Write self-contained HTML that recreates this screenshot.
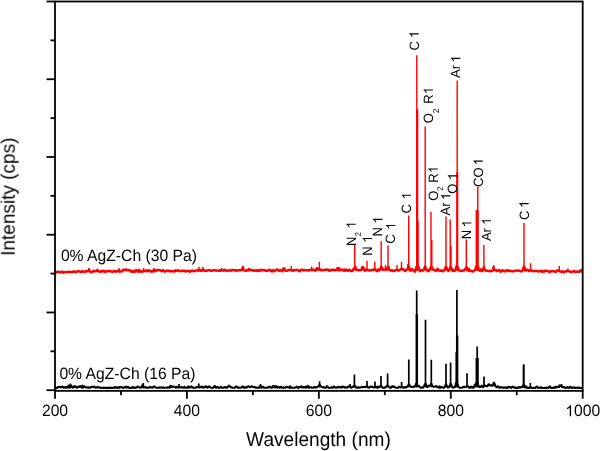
<!DOCTYPE html>
<html><head><meta charset="utf-8"><style>html,body{margin:0;padding:0;background:#fff;overflow:hidden}svg{display:block}text{text-rendering:geometricPrecision}</style></head>
<body><svg width="600" height="451" viewBox="0 0 600 451"><defs><path id="one" d="M763,0 L583,0 L583,1147 Q518,1085 465,1054 Q412,1023 359,992 Q306,961 223,930 L223,1104 Q374,1175 430.5,1225.5 Q487,1276 543.5,1326.5 Q600,1377 647,1472 L763,1472 Z"/></defs><rect width="600" height="451" fill="#fff"/><path d="M55.00,388.4 L55.50,388.3 L56.00,387.9 L56.50,388.3 L57.00,387.8 L57.50,387.5 L58.00,387.0 L58.50,387.1 L59.00,386.9 L59.50,387.0 L60.00,387.2 L60.50,387.1 L61.00,387.4 L61.50,387.3 L62.00,386.5 L62.50,386.8 L63.00,386.8 L63.50,387.6 L64.00,387.3 L64.50,387.5 L65.00,387.7 L65.50,387.4 L66.00,387.3 L66.50,386.8 L67.00,387.6 L67.50,387.1 L68.00,387.5 L68.50,385.6 L69.00,387.5 L69.50,387.5 L70.00,387.6 L70.50,384.5 L71.00,386.4 L71.50,386.1 L72.00,387.1 L72.50,387.6 L73.00,387.3 L73.50,387.4 L74.00,386.3 L74.50,386.7 L75.00,386.2 L75.50,386.4 L76.00,387.0 L76.50,387.8 L77.00,387.8 L77.50,387.6 L78.00,386.9 L78.50,386.6 L79.00,386.6 L79.50,386.4 L80.00,386.9 L80.50,386.2 L81.00,386.9 L81.50,386.4 L82.00,387.6 L82.50,385.8 L83.00,387.8 L83.50,386.9 L84.00,386.3 L84.50,386.5 L85.00,386.8 L85.50,387.1 L86.00,387.4 L86.50,387.7 L87.00,387.5 L87.50,387.5 L88.00,387.4 L88.50,387.8 L89.00,387.4 L89.50,387.8 L90.00,387.7 L90.50,387.5 L91.00,387.0 L91.50,386.9 L92.00,386.9 L92.50,386.8 L93.00,387.3 L93.50,386.9 L94.00,386.9 L94.50,386.6 L95.00,387.3 L95.50,387.6 L96.00,387.2 L96.50,387.5 L97.00,387.1 L97.50,387.6 L98.00,387.3 L98.50,387.3 L99.00,387.1 L99.50,387.3 L100.00,387.9 L100.50,387.9 L101.00,387.9 L101.50,387.9 L102.00,387.8 L102.50,387.7 L103.00,387.9 L103.50,387.9 L104.00,387.9 L104.50,387.7 L105.00,387.9 L105.50,387.9 L106.00,387.9 L106.50,387.9 L107.00,387.9 L107.50,387.9 L108.00,387.9 L108.50,387.9 L109.00,387.9 L109.50,387.9 L110.00,387.5 L110.50,387.7 L111.00,387.9 L111.50,387.9 L112.00,387.9 L112.50,387.8 L113.00,387.8 L113.50,387.9 L114.00,387.9 L114.50,387.5 L115.00,386.9 L115.50,387.1 L116.00,387.6 L116.50,387.9 L117.00,387.9 L117.50,387.9 L118.00,387.2 L118.50,387.5 L119.00,387.2 L119.50,387.9 L120.00,387.2 L120.50,387.3 L121.00,387.0 L121.50,387.2 L122.00,387.2 L122.50,387.4 L123.00,387.8 L123.50,387.9 L124.00,387.8 L124.50,387.3 L125.00,387.0 L125.50,386.9 L126.00,387.2 L126.50,387.6 L127.00,386.6 L127.50,387.4 L128.00,387.0 L128.50,387.5 L129.00,387.8 L129.50,387.9 L130.00,387.7 L130.50,387.9 L131.00,387.8 L131.50,387.9 L132.00,387.9 L132.50,387.2 L133.00,386.8 L133.50,387.5 L134.00,387.9 L134.50,387.9 L135.00,387.5 L135.50,387.8 L136.00,387.8 L136.50,387.5 L137.00,387.1 L137.50,386.6 L138.00,386.8 L138.50,386.9 L139.00,387.1 L139.50,387.4 L140.00,387.8 L140.50,387.5 L141.00,387.4 L141.50,387.4 L142.00,387.2 L142.50,385.0 L143.00,387.0 L143.30,387.2 L143.50,387.3 L144.00,387.5 L144.50,387.3 L145.00,387.3 L145.50,386.9 L146.00,387.7 L146.50,387.8 L147.00,387.8 L147.50,387.8 L148.00,387.8 L148.50,387.5 L149.00,387.2 L149.50,387.2 L150.00,387.5 L150.50,387.0 L151.00,387.3 L151.50,387.4 L152.00,387.8 L152.50,387.8 L153.00,387.4 L153.50,386.6 L154.00,386.4 L154.50,386.5 L155.00,387.0 L155.50,387.4 L156.00,387.6 L156.50,387.8 L157.00,387.8 L157.50,387.8 L158.00,387.8 L158.50,387.8 L159.00,387.5 L159.50,387.7 L160.00,387.5 L160.50,387.5 L161.00,387.4 L161.50,387.5 L162.00,387.8 L162.50,387.8 L163.00,387.8 L163.50,387.3 L164.00,387.6 L164.50,387.8 L165.00,387.8 L165.50,387.8 L166.00,387.8 L166.50,387.7 L167.00,387.8 L167.50,387.4 L168.00,387.4 L168.50,387.3 L169.00,387.4 L169.50,387.8 L170.00,387.8 L170.50,385.7 L171.00,386.6 L171.50,386.3 L172.00,386.7 L172.50,387.1 L173.00,386.6 L173.50,386.6 L174.00,386.6 L174.50,386.8 L175.00,387.1 L175.50,387.6 L176.00,387.6 L176.50,386.9 L177.00,386.8 L177.50,387.5 L178.00,387.6 L178.50,387.5 L179.00,387.2 L179.50,387.4 L180.00,387.2 L180.50,387.3 L181.00,387.4 L181.50,386.8 L182.00,387.2 L182.50,387.6 L183.00,387.8 L183.50,387.7 L184.00,387.2 L184.50,386.7 L185.00,387.5 L185.50,387.8 L186.00,387.8 L186.50,387.8 L187.00,387.8 L187.50,387.8 L188.00,386.7 L188.50,387.5 L189.00,386.6 L189.50,387.1 L190.00,387.5 L190.50,387.4 L191.00,387.0 L191.50,386.4 L192.00,386.8 L192.50,387.5 L193.00,387.8 L193.50,387.8 L194.00,387.8 L194.50,387.8 L195.00,387.8 L195.50,387.8 L196.00,387.4 L196.50,387.4 L197.00,387.2 L197.50,387.3 L198.00,386.6 L198.50,387.2 L198.80,387.2 L199.00,387.2 L199.50,387.5 L200.00,387.1 L200.50,387.1 L201.00,387.3 L201.50,386.8 L202.00,386.5 L202.50,386.7 L203.00,387.6 L203.50,387.6 L204.00,387.5 L204.50,387.0 L205.00,386.6 L205.50,386.4 L206.00,386.3 L206.50,387.3 L207.00,387.3 L207.50,387.6 L208.00,386.9 L208.50,387.0 L209.00,386.4 L209.50,386.9 L210.00,387.3 L210.50,387.5 L211.00,387.7 L211.50,387.7 L212.00,387.8 L212.50,387.8 L213.00,387.7 L213.50,387.6 L214.00,386.6 L214.50,386.3 L215.00,386.0 L215.50,387.4 L216.00,387.8 L216.50,387.8 L217.00,387.0 L217.50,387.5 L218.00,387.2 L218.50,387.8 L219.00,387.8 L219.50,387.8 L220.00,387.6 L220.50,387.2 L221.00,386.8 L221.50,387.2 L222.00,387.7 L222.50,387.8 L223.00,387.8 L223.50,387.8 L224.00,387.6 L224.50,387.0 L225.00,387.0 L225.50,387.2 L226.00,387.8 L226.50,387.8 L227.00,387.8 L227.50,386.8 L228.00,386.9 L228.50,386.6 L229.00,385.6 L229.50,386.2 L230.00,386.5 L230.50,386.8 L231.00,387.5 L231.50,387.4 L232.00,387.5 L232.50,387.8 L233.00,387.8 L233.50,387.8 L234.00,387.8 L234.50,387.8 L235.00,387.6 L235.50,386.9 L236.00,386.3 L236.50,386.8 L237.00,386.9 L237.50,387.5 L238.00,387.7 L238.50,387.6 L239.00,387.5 L239.50,387.6 L240.00,387.8 L240.50,387.8 L241.00,387.7 L241.50,387.3 L242.00,387.0 L242.50,386.4 L243.00,387.0 L243.50,386.9 L244.00,387.8 L244.50,387.3 L245.00,387.5 L245.50,387.2 L246.00,387.5 L246.50,387.6 L247.00,387.2 L247.50,386.9 L248.00,386.4 L248.50,386.4 L249.00,386.5 L249.50,387.0 L250.00,387.1 L250.50,387.1 L251.00,386.8 L251.50,386.3 L252.00,386.4 L252.50,386.8 L253.00,387.0 L253.50,387.0 L254.00,387.1 L254.50,387.3 L255.00,387.5 L255.50,387.1 L256.00,387.8 L256.50,387.8 L257.00,387.8 L257.50,387.8 L258.00,387.8 L258.50,387.3 L259.00,387.7 L259.50,387.3 L260.00,387.4 L260.50,385.0 L261.00,387.3 L261.50,387.8 L262.00,387.6 L262.50,387.1 L263.00,386.7 L263.50,387.4 L264.00,387.7 L264.50,387.7 L265.00,387.6 L265.50,387.8 L266.00,387.8 L266.50,387.8 L267.00,387.8 L267.50,387.5 L268.00,387.5 L268.50,387.4 L269.00,386.9 L269.50,386.7 L270.00,386.8 L270.50,386.9 L271.00,387.8 L271.50,387.8 L272.00,387.8 L272.50,387.3 L273.00,386.2 L273.50,386.4 L274.00,386.1 L274.50,387.4 L275.00,386.8 L275.50,387.4 L276.00,386.0 L276.50,386.4 L277.00,386.8 L277.50,387.6 L278.00,387.4 L278.50,386.8 L279.00,387.1 L279.50,387.7 L280.00,387.7 L280.50,386.9 L281.00,386.8 L281.50,387.1 L282.00,387.8 L282.50,387.8 L283.00,387.8 L283.50,387.3 L284.00,387.5 L284.50,387.8 L285.00,387.8 L285.50,387.7 L286.00,386.8 L286.50,386.9 L287.00,386.8 L287.50,387.3 L288.00,387.2 L288.50,387.2 L289.00,387.5 L289.50,387.8 L290.00,386.3 L290.50,387.8 L291.00,387.7 L291.50,387.6 L292.00,387.6 L292.50,387.7 L293.00,387.8 L293.50,387.7 L294.00,387.8 L294.50,387.7 L295.00,387.8 L295.50,387.4 L296.00,387.2 L296.50,386.6 L297.00,387.2 L297.50,387.6 L298.00,387.2 L298.50,387.8 L299.00,387.4 L299.50,387.4 L300.00,387.0 L300.50,386.7 L301.00,386.5 L301.50,386.4 L302.00,387.5 L302.50,387.3 L303.00,387.4 L303.50,387.3 L304.00,387.5 L304.50,387.3 L305.00,387.0 L305.50,386.8 L306.00,387.7 L306.50,387.4 L307.00,387.4 L307.50,385.9 L308.00,386.0 L308.50,386.9 L309.00,387.7 L309.50,387.6 L310.00,387.1 L310.50,387.1 L311.00,387.4 L311.50,387.7 L312.00,387.7 L312.50,387.7 L313.00,387.7 L313.50,387.7 L314.00,387.0 L314.50,386.7 L315.00,387.1 L315.50,387.7 L316.00,387.4 L316.50,387.4 L317.00,387.3 L317.50,386.9 L318.00,386.5 L318.50,385.8 L319.00,385.2 L319.50,385.3 L319.60,385.3 L320.00,385.3 L320.50,385.8 L321.00,386.3 L321.50,386.8 L322.00,387.2 L322.50,387.3 L323.00,387.4 L323.50,387.0 L324.00,387.2 L324.50,387.5 L325.00,387.7 L325.50,387.7 L326.00,387.7 L326.50,386.9 L327.00,386.2 L327.50,386.8 L328.00,387.3 L328.50,387.7 L329.00,387.7 L329.50,387.7 L330.00,387.7 L330.50,387.7 L331.00,387.7 L331.50,387.3 L332.00,387.4 L332.50,387.7 L333.00,387.6 L333.50,387.2 L334.00,386.4 L334.50,387.1 L335.00,387.1 L335.50,387.7 L336.00,387.7 L336.50,387.7 L337.00,387.4 L337.50,386.9 L338.00,387.2 L338.50,387.1 L339.00,387.4 L339.50,386.8 L340.00,387.4 L340.50,387.4 L341.00,387.5 L341.50,386.9 L342.00,386.8 L342.50,387.3 L343.00,386.6 L343.50,386.6 L344.00,387.0 L344.50,387.7 L345.00,387.3 L345.50,387.2 L346.00,387.4 L346.50,387.7 L347.00,387.7 L347.50,387.2 L348.00,387.0 L348.50,386.4 L349.00,386.4 L349.50,386.5 L350.00,385.0 L350.50,387.4 L351.00,387.7 L351.50,387.7 L352.00,387.3 L352.50,387.0 L353.00,386.5 L353.50,386.6 L354.00,386.2 L354.40,385.8 L354.50,385.8 L355.00,385.9 L355.50,386.7 L356.00,387.6 L356.50,387.7 L357.00,387.7 L357.50,387.7 L358.00,387.1 L358.50,387.3 L359.00,387.7 L359.50,387.7 L360.00,387.6 L360.50,387.4 L361.00,387.2 L361.50,387.2 L362.00,387.0 L362.50,387.2 L363.00,387.1 L363.50,386.9 L364.00,386.8 L364.50,387.1 L365.00,386.9 L365.50,387.2 L366.00,386.9 L366.50,386.6 L367.00,386.6 L367.50,386.6 L368.00,387.4 L368.50,387.4 L369.00,387.7 L369.50,387.5 L370.00,386.8 L370.50,387.0 L371.00,386.6 L371.50,386.8 L372.00,386.8 L372.50,386.9 L373.00,387.2 L373.50,387.2 L374.00,387.5 L374.50,387.2 L375.00,387.0 L375.50,387.0 L376.00,387.1 L376.50,387.1 L377.00,387.7 L377.50,386.6 L378.00,387.7 L378.50,387.0 L379.00,386.5 L379.50,386.9 L380.00,386.6 L380.50,386.3 L381.00,385.8 L381.50,386.6 L382.00,387.0 L382.50,387.6 L383.00,387.7 L383.50,387.7 L384.00,387.7 L384.50,387.6 L385.00,387.7 L385.50,387.4 L386.00,387.1 L386.50,386.2 L387.00,385.7 L387.50,385.6 L387.60,385.6 L388.00,386.0 L388.50,386.4 L389.00,386.8 L389.50,387.3 L390.00,387.7 L390.50,387.7 L391.00,387.7 L391.50,386.8 L392.00,386.5 L392.50,386.2 L393.00,386.5 L393.50,387.0 L394.00,386.6 L394.50,387.1 L395.00,387.1 L395.50,387.7 L396.00,387.7 L396.50,387.7 L397.00,387.7 L397.50,387.7 L398.00,387.7 L398.50,387.2 L399.00,386.6 L399.50,386.9 L400.00,387.2 L400.50,387.5 L401.00,387.2 L401.50,387.1 L401.60,387.1 L402.00,387.1 L402.50,387.4 L403.00,387.5 L403.50,387.6 L404.00,387.7 L404.50,387.3 L405.00,387.0 L405.50,387.1 L406.00,387.7 L406.50,387.0 L407.00,386.7 L407.50,386.7 L408.00,385.9 L408.50,384.6 L408.80,384.4 L409.00,384.4 L409.50,385.1 L410.00,386.1 L410.50,386.6 L411.00,386.8 L411.50,386.8 L412.00,386.9 L412.50,387.0 L413.00,387.0 L413.50,386.9 L414.00,386.3 L414.50,386.6 L415.00,386.5 L415.50,385.8 L416.00,384.1 L416.20,383.6 L416.50,383.4 L416.70,383.5 L417.00,384.0 L417.20,384.5 L417.50,385.2 L418.00,386.3 L418.50,386.2 L419.00,386.1 L419.50,386.6 L420.00,387.3 L420.50,387.7 L421.00,387.7 L421.50,387.7 L422.00,387.5 L422.50,387.0 L423.00,387.6 L423.50,386.7 L424.00,386.7 L424.50,385.1 L425.00,384.4 L425.50,383.7 L426.00,384.6 L426.50,386.2 L427.00,387.0 L427.50,386.8 L428.00,386.7 L428.50,385.9 L429.00,385.8 L429.50,385.5 L430.00,385.5 L430.50,385.7 L431.00,384.1 L431.30,383.8 L431.50,383.9 L432.00,385.5 L432.50,386.3 L433.00,386.4 L433.50,386.6 L434.00,386.7 L434.50,386.8 L435.00,386.6 L435.50,386.3 L436.00,386.3 L436.50,386.1 L437.00,386.8 L437.50,387.0 L438.00,387.2 L438.50,387.5 L439.00,387.6 L439.50,386.4 L440.00,387.6 L440.50,387.6 L441.00,386.8 L441.50,387.0 L442.00,387.1 L442.50,387.4 L443.00,387.7 L443.50,387.7 L444.00,387.6 L444.50,387.2 L445.00,386.1 L445.50,385.1 L446.00,384.2 L446.50,385.0 L447.00,386.4 L447.50,387.4 L448.00,387.6 L448.50,387.4 L449.00,386.8 L449.50,386.1 L450.00,385.1 L450.50,383.8 L450.60,383.8 L451.00,384.3 L451.50,385.0 L452.00,386.7 L452.50,387.3 L453.00,387.7 L453.50,387.5 L454.00,387.3 L454.50,387.3 L455.00,386.9 L455.50,385.2 L456.00,383.2 L456.30,382.5 L456.50,382.4 L456.80,382.6 L456.90,382.7 L457.00,382.9 L457.50,384.2 L457.80,385.4 L458.00,386.1 L458.50,386.9 L459.00,387.4 L459.50,387.7 L460.00,387.7 L460.50,387.7 L461.00,387.7 L461.50,387.7 L462.00,387.7 L462.50,387.5 L463.00,386.9 L463.50,386.7 L464.00,387.0 L464.50,386.9 L465.00,387.3 L465.50,387.1 L466.00,387.0 L466.50,386.3 L467.00,386.0 L467.50,386.3 L468.00,386.4 L468.50,386.8 L469.00,387.6 L469.50,387.7 L470.00,387.7 L470.50,387.2 L471.00,386.6 L471.50,386.7 L472.00,387.6 L472.50,387.4 L473.00,387.7 L473.50,386.9 L474.00,387.4 L474.50,385.1 L475.00,386.4 L475.50,384.5 L476.00,383.6 L476.10,383.4 L476.40,383.2 L476.50,383.3 L477.00,383.3 L477.20,382.8 L477.50,382.6 L477.90,383.8 L478.00,384.2 L478.20,384.9 L478.50,385.9 L479.00,386.7 L479.50,386.9 L480.00,386.8 L480.50,386.9 L481.00,386.5 L481.50,385.7 L482.00,386.2 L482.50,386.7 L483.00,387.2 L483.50,386.1 L484.00,385.2 L484.50,385.5 L485.00,385.7 L485.50,386.0 L486.00,385.7 L486.50,386.1 L487.00,386.2 L487.50,386.1 L488.00,385.6 L488.50,384.2 L489.00,384.3 L489.50,384.7 L490.00,385.3 L490.50,385.7 L491.00,385.4 L491.50,385.4 L492.00,385.4 L492.50,385.8 L493.00,384.8 L493.50,383.5 L493.90,382.8 L494.00,382.7 L494.50,383.8 L495.00,385.0 L495.50,386.2 L496.00,386.7 L496.50,387.0 L497.00,387.2 L497.50,386.8 L498.00,386.3 L498.50,386.7 L499.00,387.6 L499.50,387.7 L500.00,387.7 L500.50,387.2 L501.00,387.1 L501.50,387.3 L502.00,387.4 L502.50,387.6 L503.00,387.4 L503.50,387.8 L504.00,387.8 L504.50,387.8 L505.00,387.4 L505.50,387.2 L506.00,387.5 L506.50,387.9 L507.00,387.9 L507.50,387.9 L508.00,387.0 L508.50,387.3 L509.00,386.9 L509.50,387.1 L510.00,387.2 L510.50,387.1 L511.00,387.8 L511.50,387.5 L512.00,387.4 L512.50,386.6 L513.00,387.2 L513.50,387.0 L514.00,387.2 L514.50,387.2 L515.00,387.9 L515.50,387.9 L516.00,387.9 L516.50,387.8 L517.00,387.9 L517.50,387.9 L518.00,387.9 L518.50,387.1 L519.00,387.1 L519.50,387.6 L520.00,387.5 L520.50,387.4 L521.00,387.1 L521.50,387.1 L522.00,387.2 L522.50,386.4 L523.00,385.7 L523.20,385.3 L523.50,385.0 L523.90,385.6 L524.00,385.8 L524.20,386.3 L524.50,387.0 L525.00,387.7 L525.50,385.9 L526.00,386.6 L526.50,387.0 L527.00,387.6 L527.50,388.0 L528.00,387.8 L528.50,388.0 L529.00,387.9 L529.50,387.7 L530.00,387.5 L530.30,387.2 L530.50,386.9 L531.00,387.4 L531.50,387.9 L532.00,388.0 L532.50,388.0 L533.00,388.0 L533.50,387.8 L534.00,388.0 L534.50,387.8 L535.00,387.9 L535.50,388.0 L536.00,387.3 L536.50,386.5 L537.00,386.5 L537.50,387.3 L538.00,388.0 L538.50,387.8 L539.00,387.7 L539.50,387.7 L540.00,387.5 L540.50,387.6 L541.00,387.2 L541.50,388.0 L542.00,388.0 L542.50,388.0 L543.00,388.0 L543.50,388.0 L544.00,388.0 L544.50,388.0 L545.00,387.8 L545.50,387.8 L546.00,388.0 L546.50,388.0 L547.00,387.6 L547.50,387.6 L548.00,388.0 L548.50,387.8 L549.00,387.3 L549.50,386.5 L550.00,386.4 L550.50,387.2 L551.00,388.0 L551.50,388.0 L552.00,388.0 L552.50,388.0 L553.00,388.0 L553.50,387.7 L554.00,387.2 L554.50,387.5 L555.00,387.8 L555.50,387.7 L556.00,386.7 L556.50,387.2 L557.00,387.1 L557.50,387.2 L558.00,387.0 L558.50,386.9 L559.00,386.8 L559.40,386.3 L559.50,386.2 L560.00,385.7 L560.50,386.0 L561.00,386.0 L561.50,385.0 L562.00,387.0 L562.50,387.2 L563.00,387.3 L563.50,387.2 L564.00,386.9 L564.50,387.5 L565.00,387.8 L565.50,387.9 L566.00,387.9 L566.50,388.0 L567.00,387.3 L567.50,387.0 L568.00,387.2 L568.50,388.0 L569.00,388.0 L569.50,387.5 L570.00,387.1 L570.50,386.7 L571.00,387.3 L571.50,387.9 L572.00,387.9 L572.50,387.9 L573.00,387.3 L573.50,387.4 L574.00,387.5 L574.50,387.9 L575.00,388.0 L575.50,387.8 L576.00,387.9 L576.50,387.7 L577.00,387.8 L577.50,388.0 L578.00,387.7 L578.50,387.8 L579.00,387.5 L579.50,388.0 L580.00,388.0 L580.50,388.0 L581.00,388.0 L581.50,388.0 L582.00,387.8 L582.50,387.7" fill="none" stroke="#000" stroke-width="2.1" stroke-linejoin="round"/><path d="M55.00,273.6 L55.50,273.2 L56.00,271.7 L56.50,272.0 L57.00,272.0 L57.50,271.9 L58.00,271.8 L58.50,271.8 L59.00,272.0 L59.50,272.5 L60.00,272.1 L60.50,272.1 L61.00,271.9 L61.50,271.7 L62.00,271.8 L62.50,271.8 L63.00,272.7 L63.50,272.6 L64.00,272.5 L64.50,272.2 L65.00,272.1 L65.50,272.4 L66.00,272.0 L66.50,272.0 L67.00,272.0 L67.50,272.2 L68.00,272.2 L68.50,271.7 L69.00,271.6 L69.50,271.6 L70.00,272.1 L70.50,272.0 L71.00,272.2 L71.50,272.0 L72.00,272.0 L72.50,271.9 L73.00,271.7 L73.50,271.5 L74.00,271.2 L74.50,272.0 L75.00,272.0 L75.50,272.3 L76.00,272.0 L76.50,271.9 L77.00,271.4 L77.50,271.5 L78.00,271.4 L78.50,270.8 L79.00,271.4 L79.50,271.4 L80.00,271.6 L80.50,272.2 L81.00,272.0 L81.50,271.4 L82.00,271.0 L82.50,271.5 L83.00,271.8 L83.50,271.9 L84.00,271.5 L84.50,271.6 L85.00,271.8 L85.50,271.9 L86.00,271.4 L86.50,271.0 L87.00,271.3 L87.50,271.2 L88.00,271.3 L88.50,270.9 L89.00,269.2 L89.50,271.3 L90.00,271.5 L90.50,271.9 L91.00,272.0 L91.50,272.4 L92.00,272.0 L92.50,271.7 L93.00,271.5 L93.50,270.8 L94.00,271.0 L94.50,270.9 L95.00,271.3 L95.50,271.4 L96.00,271.2 L96.50,270.9 L97.00,270.7 L97.50,269.8 L98.00,271.1 L98.50,271.1 L99.00,271.6 L99.50,271.8 L100.00,271.8 L100.50,271.6 L101.00,271.1 L101.50,271.4 L102.00,271.1 L102.50,271.6 L103.00,271.0 L103.50,271.1 L104.00,270.8 L104.50,271.6 L105.00,272.0 L105.50,271.9 L106.00,271.4 L106.50,270.9 L107.00,271.1 L107.50,271.0 L108.00,271.4 L108.50,271.1 L109.00,271.1 L109.50,270.8 L110.00,270.9 L110.50,271.2 L111.00,271.4 L111.50,271.7 L112.00,271.8 L112.50,272.0 L113.00,271.6 L113.50,271.4 L114.00,270.7 L114.50,271.0 L115.00,271.3 L115.50,271.7 L116.00,271.6 L116.50,271.2 L117.00,271.2 L117.50,271.3 L118.00,271.1 L118.50,271.4 L119.00,269.5 L119.50,271.7 L120.00,271.5 L120.50,271.4 L121.00,271.6 L121.50,271.5 L122.00,271.3 L122.50,270.8 L123.00,270.2 L123.50,269.7 L124.00,269.7 L124.50,270.0 L125.00,269.9 L125.50,269.4 L125.70,269.4 L126.00,269.3 L126.50,269.8 L127.00,270.4 L127.50,270.4 L128.00,270.3 L128.50,269.9 L129.00,270.0 L129.50,270.2 L130.00,270.7 L130.50,271.3 L131.00,270.7 L131.50,271.9 L132.00,272.0 L132.50,271.6 L133.00,271.1 L133.50,270.9 L134.00,271.7 L134.50,272.0 L135.00,271.6 L135.50,271.0 L136.00,269.9 L136.50,271.3 L137.00,271.4 L137.50,270.9 L138.00,271.5 L138.50,271.5 L139.00,269.8 L139.50,271.9 L140.00,271.6 L140.50,271.3 L141.00,271.3 L141.50,271.2 L142.00,271.9 L142.50,271.3 L143.00,271.2 L143.50,270.5 L143.70,270.5 L144.00,270.5 L144.50,271.0 L145.00,271.1 L145.50,271.3 L146.00,270.7 L146.50,270.7 L147.00,270.3 L147.50,271.3 L148.00,271.0 L148.50,271.0 L149.00,270.2 L149.50,270.6 L150.00,270.8 L150.50,271.2 L151.00,271.7 L151.50,271.4 L152.00,271.3 L152.50,271.3 L153.00,271.6 L153.50,271.4 L154.00,269.3 L154.50,270.9 L155.00,271.3 L155.50,270.8 L156.00,270.7 L156.50,270.0 L157.00,269.9 L157.50,270.2 L157.70,270.1 L158.00,270.1 L158.50,270.0 L159.00,270.0 L159.50,270.2 L160.00,270.1 L160.50,270.4 L161.00,270.6 L161.50,271.3 L162.00,270.9 L162.50,270.3 L163.00,270.1 L163.50,270.4 L164.00,271.4 L164.50,271.5 L165.00,271.5 L165.50,271.3 L166.00,271.1 L166.50,271.0 L167.00,270.5 L167.50,270.7 L168.00,270.5 L168.50,270.7 L169.00,270.8 L169.50,271.2 L170.00,271.0 L170.50,271.3 L171.00,271.0 L171.50,271.4 L172.00,271.1 L172.50,271.3 L173.00,271.2 L173.50,271.4 L174.00,271.5 L174.50,271.6 L175.00,270.7 L175.50,270.3 L176.00,270.5 L176.50,270.9 L177.00,270.9 L177.50,270.4 L178.00,270.3 L178.50,270.7 L179.00,270.9 L179.50,271.3 L180.00,270.9 L180.50,271.0 L181.00,270.7 L181.50,270.8 L182.00,270.9 L182.50,271.1 L183.00,271.1 L183.50,270.6 L184.00,270.5 L184.50,270.9 L185.00,271.3 L185.50,271.6 L186.00,271.2 L186.50,271.1 L187.00,270.9 L187.50,271.0 L188.00,270.8 L188.50,270.9 L189.00,271.2 L189.50,271.5 L190.00,271.8 L190.50,270.9 L191.00,270.9 L191.50,270.8 L192.00,271.1 L192.50,270.6 L193.00,270.7 L193.50,271.1 L194.00,271.3 L194.50,271.1 L195.00,270.8 L195.50,270.8 L196.00,270.7 L196.50,270.5 L197.00,270.1 L197.50,270.1 L198.00,270.3 L198.50,270.8 L199.00,270.4 L199.50,270.5 L200.00,270.1 L200.50,270.6 L201.00,270.9 L201.50,271.1 L202.00,270.0 L202.50,270.3 L203.00,269.6 L203.50,269.7 L204.00,270.3 L204.50,270.7 L205.00,270.9 L205.50,270.8 L206.00,270.9 L206.50,271.0 L207.00,270.8 L207.50,270.5 L208.00,270.0 L208.50,270.2 L209.00,270.3 L209.50,270.5 L210.00,270.5 L210.50,270.4 L211.00,270.9 L211.50,270.9 L212.00,270.9 L212.50,270.4 L213.00,270.5 L213.50,270.3 L214.00,270.3 L214.50,270.0 L215.00,270.4 L215.50,270.5 L216.00,270.6 L216.50,270.5 L217.00,270.5 L217.50,270.7 L218.00,270.9 L218.50,270.8 L219.00,270.9 L219.50,270.3 L220.00,270.4 L220.50,270.1 L221.00,270.7 L221.50,270.6 L221.70,270.5 L222.00,270.4 L222.50,270.4 L223.00,270.4 L223.50,270.7 L224.00,269.8 L224.50,270.0 L225.00,269.7 L225.50,270.6 L226.00,270.7 L226.50,271.0 L227.00,270.7 L227.50,270.6 L228.00,270.4 L228.50,270.5 L229.00,270.4 L229.50,270.3 L230.00,270.7 L230.50,270.9 L231.00,270.6 L231.50,270.4 L232.00,269.8 L232.50,270.3 L233.00,269.9 L233.50,270.1 L234.00,270.2 L234.50,270.3 L235.00,270.1 L235.50,270.0 L236.00,270.2 L236.50,271.0 L237.00,270.9 L237.50,270.5 L238.00,270.0 L238.50,270.2 L239.00,270.3 L239.50,270.2 L240.00,270.2 L240.50,270.3 L241.00,270.4 L241.50,270.0 L241.70,269.9 L242.00,269.8 L242.50,269.5 L243.00,267.5 L243.50,269.8 L244.00,270.2 L244.50,270.5 L245.00,270.8 L245.50,270.8 L246.00,270.5 L246.50,270.1 L247.00,270.1 L247.50,270.4 L248.00,270.7 L248.50,270.2 L249.00,269.1 L249.50,270.0 L250.00,270.0 L250.50,269.9 L251.00,269.7 L251.50,269.9 L252.00,270.4 L252.50,270.6 L253.00,270.6 L253.50,270.0 L254.00,270.3 L254.50,270.8 L255.00,270.7 L255.50,270.5 L256.00,270.4 L256.50,270.8 L257.00,270.9 L257.50,270.0 L258.00,269.9 L258.50,270.1 L259.00,271.0 L259.50,271.1 L260.00,270.8 L260.50,270.3 L261.00,269.7 L261.50,269.6 L262.00,270.0 L262.50,270.4 L263.00,270.3 L263.50,270.4 L264.00,270.0 L264.50,270.6 L265.00,270.2 L265.50,270.7 L266.00,270.6 L266.50,270.7 L267.00,270.9 L267.50,270.8 L268.00,270.6 L268.50,270.2 L269.00,269.8 L269.50,269.7 L270.00,270.1 L270.50,270.7 L271.00,271.2 L271.50,270.4 L272.00,271.6 L272.50,271.4 L273.00,270.4 L273.50,270.1 L274.00,270.6 L274.50,271.0 L275.00,271.0 L275.50,270.6 L276.00,270.0 L276.50,269.8 L277.00,269.4 L277.50,269.4 L278.00,269.8 L278.50,270.3 L279.00,270.8 L279.50,270.7 L280.00,270.2 L280.50,270.3 L281.00,270.4 L281.50,271.1 L282.00,271.3 L282.50,271.3 L283.00,268.7 L283.50,269.1 L284.00,270.0 L284.50,268.3 L285.00,270.5 L285.50,270.7 L286.00,270.9 L286.50,270.9 L287.00,270.9 L287.50,270.5 L288.00,270.4 L288.50,270.1 L289.00,269.9 L289.50,270.0 L290.00,270.0 L290.50,270.0 L291.00,270.0 L291.30,270.0 L291.50,270.1 L292.00,270.6 L292.50,270.5 L293.00,271.0 L293.50,270.0 L294.00,270.4 L294.50,270.4 L295.00,270.2 L295.50,270.1 L296.00,269.9 L296.50,270.0 L297.00,270.1 L297.50,270.0 L298.00,270.0 L298.50,270.7 L299.00,271.1 L299.50,271.3 L300.00,271.2 L300.50,270.3 L301.00,269.9 L301.50,269.6 L302.00,269.6 L302.50,269.9 L303.00,270.1 L303.50,270.6 L304.00,270.3 L304.50,269.9 L305.00,270.0 L305.50,270.1 L306.00,270.3 L306.50,270.1 L307.00,270.2 L307.50,270.1 L308.00,270.6 L308.50,270.6 L309.00,270.3 L309.50,269.7 L310.00,269.6 L310.50,269.8 L311.00,270.1 L311.50,270.1 L311.70,270.1 L312.00,270.2 L312.50,269.9 L313.00,269.6 L313.50,269.8 L314.00,269.9 L314.50,270.5 L315.00,270.3 L315.50,270.7 L316.00,270.2 L316.50,268.4 L317.00,269.4 L317.50,269.5 L318.00,268.3 L318.50,269.8 L319.00,269.2 L319.40,268.9 L319.50,268.9 L320.00,269.4 L320.50,269.8 L321.00,270.2 L321.50,269.9 L322.00,270.4 L322.50,269.9 L323.00,270.1 L323.50,270.1 L324.00,270.2 L324.50,270.0 L325.00,269.7 L325.50,269.7 L326.00,269.9 L326.50,269.7 L327.00,269.7 L327.50,269.7 L328.00,269.7 L328.50,270.2 L329.00,270.3 L329.50,270.8 L330.00,270.1 L330.50,270.4 L331.00,269.8 L331.50,270.0 L332.00,270.1 L332.50,270.2 L333.00,269.9 L333.50,269.6 L334.00,269.7 L334.50,270.3 L335.00,270.2 L335.50,270.1 L336.00,270.0 L336.50,269.9 L337.00,269.9 L337.50,267.9 L338.00,270.2 L338.50,270.2 L339.00,270.4 L339.50,268.3 L340.00,269.7 L340.50,269.6 L341.00,270.0 L341.50,269.9 L342.00,269.7 L342.50,269.9 L343.00,270.2 L343.50,270.7 L344.00,270.5 L344.50,269.5 L345.00,270.8 L345.50,270.7 L346.00,270.2 L346.50,269.7 L347.00,269.8 L347.50,270.1 L348.00,270.8 L348.50,270.7 L349.00,270.1 L349.50,269.7 L350.00,270.2 L350.50,270.6 L351.00,271.0 L351.50,270.8 L352.00,271.2 L352.50,271.0 L353.00,270.5 L353.50,268.8 L354.00,269.0 L354.50,268.0 L354.70,267.6 L355.00,267.6 L355.50,267.1 L356.00,269.9 L356.50,269.8 L357.00,270.1 L357.50,269.7 L358.00,270.0 L358.50,270.2 L359.00,270.4 L359.50,270.1 L360.00,270.0 L360.50,270.3 L361.00,270.1 L361.50,269.7 L362.00,267.8 L362.50,267.0 L363.00,267.3 L363.50,267.7 L364.00,269.7 L364.50,270.4 L365.00,270.8 L365.50,270.5 L366.00,270.3 L366.50,269.5 L367.00,269.9 L367.50,269.8 L368.00,270.1 L368.50,270.2 L369.00,270.5 L369.50,270.6 L370.00,270.4 L370.50,270.3 L371.00,270.5 L371.50,270.1 L372.00,269.7 L372.50,269.7 L373.00,270.1 L373.50,270.1 L374.00,269.3 L374.50,269.2 L374.80,269.1 L375.00,269.2 L375.50,269.7 L376.00,270.2 L376.50,270.7 L377.00,271.3 L377.50,271.1 L378.00,271.0 L378.50,269.3 L379.00,270.3 L379.50,270.1 L380.00,269.8 L380.50,268.6 L381.00,267.1 L381.20,266.8 L381.50,266.9 L382.00,268.1 L382.50,269.5 L383.00,269.9 L383.50,269.7 L384.00,269.4 L384.50,269.5 L385.00,269.7 L385.50,270.0 L386.00,269.6 L386.50,269.7 L387.00,269.0 L387.50,267.7 L388.00,266.9 L388.50,267.0 L389.00,268.9 L389.50,270.0 L390.00,270.5 L390.50,270.3 L391.00,270.3 L391.50,270.7 L392.00,270.9 L392.50,270.2 L393.00,271.0 L393.50,270.9 L394.00,270.9 L394.50,271.1 L395.00,270.5 L395.50,270.3 L396.00,269.9 L396.50,270.1 L397.00,269.8 L397.50,269.9 L398.00,270.2 L398.50,270.5 L399.00,270.6 L399.50,270.2 L400.00,269.8 L400.50,269.3 L401.00,268.7 L401.50,268.7 L402.00,268.9 L402.50,269.3 L403.00,269.2 L403.50,269.4 L404.00,269.7 L404.50,270.7 L405.00,271.1 L405.50,271.0 L406.00,270.3 L406.50,269.8 L407.00,269.5 L407.50,269.0 L407.80,268.3 L408.00,267.7 L408.50,266.4 L408.70,266.3 L409.00,266.9 L409.50,268.6 L410.00,270.6 L410.50,270.6 L411.00,270.8 L411.50,270.2 L412.00,269.0 L412.50,269.9 L413.00,269.6 L413.50,270.0 L414.00,270.7 L414.50,271.4 L415.00,271.7 L415.50,270.6 L416.00,268.4 L416.40,266.9 L416.50,266.7 L416.70,266.4 L416.80,266.4 L417.00,266.4 L417.50,267.6 L417.60,267.1 L417.90,265.8 L418.00,265.5 L418.50,266.8 L419.00,268.8 L419.50,270.4 L420.00,271.3 L420.50,270.7 L421.00,270.5 L421.50,270.1 L422.00,270.5 L422.50,270.5 L423.00,270.7 L423.50,270.2 L424.00,269.4 L424.50,268.0 L425.00,266.6 L425.20,266.5 L425.50,267.0 L426.00,268.6 L426.50,270.1 L427.00,270.2 L427.50,270.6 L428.00,270.9 L428.50,271.3 L429.00,270.5 L429.50,269.8 L430.00,268.8 L430.50,267.6 L431.00,267.1 L431.50,267.4 L431.80,267.2 L432.00,267.4 L432.50,268.5 L433.00,269.4 L433.50,269.8 L434.00,269.8 L434.50,270.2 L435.00,270.1 L435.50,270.6 L436.00,270.7 L436.50,271.1 L437.00,270.4 L437.50,268.7 L438.00,269.6 L438.50,270.0 L439.00,270.4 L439.50,270.6 L440.00,270.7 L440.50,270.8 L441.00,270.6 L441.50,270.3 L442.00,270.6 L442.50,271.1 L443.00,271.4 L443.50,271.0 L444.00,270.3 L444.50,269.8 L445.00,269.1 L445.50,267.4 L446.00,267.0 L446.50,267.4 L447.00,269.2 L447.50,270.2 L448.00,270.2 L448.50,271.0 L449.00,270.2 L449.50,268.8 L450.00,267.8 L450.20,267.4 L450.50,267.3 L451.00,267.5 L451.50,268.4 L452.00,269.9 L452.50,270.8 L453.00,270.0 L453.50,270.7 L454.00,270.3 L454.50,271.0 L455.00,270.7 L455.50,269.8 L456.00,268.1 L456.50,266.3 L456.60,266.1 L456.90,265.9 L457.00,266.0 L457.20,266.1 L457.50,266.7 L457.60,266.9 L457.90,267.7 L458.00,267.9 L458.50,270.0 L459.00,270.5 L459.50,270.6 L460.00,270.5 L460.50,270.9 L461.00,271.1 L461.50,271.0 L462.00,270.8 L462.50,270.7 L463.00,270.4 L463.50,270.4 L464.00,270.4 L464.50,270.3 L465.00,269.8 L465.50,268.7 L466.00,267.6 L466.30,267.1 L466.50,267.1 L467.00,268.2 L467.50,269.7 L468.00,270.7 L468.50,270.7 L469.00,268.8 L469.50,270.4 L470.00,270.6 L470.50,271.0 L471.00,270.7 L471.50,270.9 L472.00,271.1 L472.50,271.6 L473.00,271.4 L473.50,271.2 L474.00,270.7 L474.50,270.4 L475.00,270.1 L475.50,268.6 L476.00,266.9 L476.30,266.4 L476.50,266.4 L477.00,268.1 L477.50,267.0 L477.80,266.4 L477.90,266.3 L478.00,266.4 L478.20,267.0 L478.50,268.3 L479.00,269.8 L479.50,270.7 L480.00,270.1 L480.50,269.3 L481.00,270.5 L481.50,271.1 L482.00,271.2 L482.50,270.9 L483.00,269.5 L483.50,267.7 L483.90,267.2 L484.00,267.2 L484.50,268.7 L485.00,269.9 L485.50,270.5 L486.00,270.4 L486.50,270.9 L487.00,270.7 L487.50,270.8 L488.00,270.9 L488.50,271.1 L489.00,271.0 L489.50,270.9 L490.00,271.1 L490.50,271.4 L491.00,271.0 L491.50,271.2 L492.00,270.8 L492.50,270.7 L493.00,270.0 L493.50,267.3 L493.80,268.7 L494.00,269.7 L494.50,270.3 L495.00,270.3 L495.50,270.2 L496.00,270.2 L496.50,270.7 L497.00,271.2 L497.50,270.7 L498.00,270.7 L498.50,269.9 L499.00,270.0 L499.50,270.2 L500.00,271.2 L500.50,271.8 L501.00,271.6 L501.50,271.1 L502.00,270.6 L502.50,270.1 L503.00,270.7 L503.50,271.1 L504.00,271.3 L504.50,271.4 L505.00,270.8 L505.50,271.2 L506.00,270.5 L506.50,270.4 L507.00,270.4 L507.50,270.3 L508.00,271.0 L508.50,270.7 L509.00,271.0 L509.50,270.6 L510.00,270.9 L510.50,270.7 L511.00,271.0 L511.50,271.1 L512.00,271.3 L512.50,271.1 L513.00,271.4 L513.50,271.2 L514.00,271.2 L514.50,270.9 L515.00,271.0 L515.50,270.8 L516.00,270.5 L516.50,270.5 L517.00,270.6 L517.50,270.7 L518.00,270.5 L518.50,270.7 L519.00,270.4 L519.50,271.0 L520.00,271.0 L520.50,271.4 L521.00,271.1 L521.50,271.4 L522.00,271.1 L522.50,270.9 L523.00,269.7 L523.50,267.5 L524.00,266.6 L524.50,267.1 L525.00,269.6 L525.50,270.6 L526.00,269.7 L526.50,270.4 L527.00,269.9 L527.50,269.7 L528.00,270.2 L528.50,270.4 L529.00,271.1 L529.50,271.1 L530.00,271.0 L530.50,270.0 L530.60,270.0 L531.00,270.0 L531.50,270.3 L532.00,270.7 L532.50,270.9 L533.00,271.2 L533.50,270.9 L534.00,271.0 L534.50,271.0 L535.00,271.1 L535.50,271.0 L536.00,270.7 L536.50,270.7 L537.00,271.0 L537.50,271.0 L538.00,271.6 L538.50,271.5 L539.00,271.5 L539.50,271.3 L540.00,271.1 L540.50,270.8 L541.00,271.1 L541.50,271.2 L542.00,271.9 L542.50,271.1 L543.00,271.3 L543.50,271.2 L544.00,271.7 L544.50,270.9 L545.00,270.7 L545.50,270.6 L546.00,271.1 L546.50,271.1 L547.00,271.0 L547.50,271.0 L548.00,271.0 L548.50,271.6 L549.00,271.6 L549.50,272.2 L550.00,271.5 L550.50,271.5 L551.00,271.3 L551.50,271.2 L552.00,271.4 L552.50,271.2 L553.00,271.4 L553.50,271.2 L554.00,271.5 L554.50,271.5 L555.00,271.7 L555.50,271.4 L556.00,271.8 L556.50,271.2 L557.00,270.8 L557.50,270.2 L558.00,270.5 L558.50,270.8 L559.00,271.1 L559.30,271.0 L559.50,271.0 L560.00,271.5 L560.50,271.5 L561.00,271.9 L561.50,271.4 L562.00,271.6 L562.50,271.3 L563.00,271.7 L563.50,271.7 L564.00,272.4 L564.50,272.0 L565.00,271.5 L565.50,271.3 L566.00,271.4 L566.50,271.5 L567.00,270.9 L567.50,270.9 L567.80,270.6 L568.00,270.5 L568.50,270.9 L569.00,271.1 L569.50,271.5 L570.00,271.8 L570.50,271.7 L571.00,271.9 L571.50,272.0 L572.00,272.1 L572.50,271.8 L573.00,271.3 L573.50,271.1 L574.00,271.0 L574.50,271.4 L575.00,271.8 L575.50,272.1 L576.00,271.9 L576.50,271.6 L577.00,271.4 L577.50,271.5 L578.00,271.8 L578.50,271.9 L579.00,272.1 L579.50,271.5 L580.00,270.7 L580.50,270.5 L581.00,271.0 L581.50,269.9 L582.00,271.8 L582.50,271.5" fill="none" stroke="#f00" stroke-width="2.4" stroke-linejoin="round"/><rect x="415.65" y="314.00" width="2.40" height="73.34" fill="#000"/><rect x="455.95" y="335.50" width="2.40" height="51.81" fill="#000"/><rect x="475.55" y="358.00" width="3.20" height="29.30" fill="#000"/><rect x="522.65" y="364.40" width="2.10" height="23.25" fill="#000"/><path d="M143.30,387.49V383.00M179.00,387.45V384.00M198.80,387.43V383.50M319.60,387.39V381.20M559.40,387.70V384.60M354.40,387.37V374.40M367.00,387.36V381.00M375.00,387.36V381.60M381.00,387.36V376.00M387.60,387.35V373.60M401.60,387.34V382.00M408.80,387.34V359.60M416.70,387.34V290.60M425.50,387.33V319.80M431.30,387.33V359.80M446.00,387.32V363.70M450.60,387.32V362.50M456.90,387.31V290.00M456.30,387.31V352.00M467.00,387.31V373.20M477.20,387.30V346.60M484.00,387.33V376.40M530.30,387.70V383.00" stroke="#000" stroke-width="1.7" fill="none"/><rect x="416.00" y="109.20" width="2.30" height="161.30" fill="#f00"/><rect x="456.20" y="172.00" width="2.10" height="98.64" fill="#f00"/><rect x="475.60" y="210.00" width="3.00" height="60.75" fill="#f00"/><path d="M143.70,271.11V268.00M199.00,270.51V266.80M203.00,270.50V266.80M221.70,270.47V268.00M241.70,270.44V267.50M243.00,270.44V265.40M291.30,270.38V266.00M311.70,270.35V266.50M319.40,270.34V261.70M354.70,270.31V245.00M367.00,270.35V260.80M374.80,270.37V261.50M381.20,270.39V241.20M385.50,270.41V265.00M388.00,270.41V245.50M397.00,270.44V265.00M401.50,270.45V261.80M407.80,270.47V264.00M408.70,270.48V215.60M416.80,270.50V55.30M425.20,270.53V126.60M431.00,270.54V212.00M431.80,270.55V240.00M446.00,270.59V216.50M450.20,270.60V219.50M451.00,270.61V246.00M418.00,270.50V221.00M457.20,270.64V80.40M466.30,270.69V239.50M477.80,270.76V186.50M483.90,270.79V245.00M493.80,270.85V265.00M524.00,271.04V223.00M530.60,271.10V263.20M559.30,271.38V266.00M567.80,271.46V268.50" stroke="#f00" stroke-width="1.4" fill="none"/><rect x="55.0" y="1.5" width="527.70" height="389.35" fill="none" stroke="#000" stroke-width="1.8"/><line x1="46.5" y1="1.50" x2="55.0" y2="1.50" stroke="#000" stroke-width="1.8"/><line x1="50.5" y1="40.37" x2="55.0" y2="40.37" stroke="#000" stroke-width="1.8"/><line x1="46.5" y1="79.24" x2="55.0" y2="79.24" stroke="#000" stroke-width="1.8"/><line x1="50.5" y1="118.11" x2="55.0" y2="118.11" stroke="#000" stroke-width="1.8"/><line x1="46.5" y1="156.98" x2="55.0" y2="156.98" stroke="#000" stroke-width="1.8"/><line x1="50.5" y1="195.85" x2="55.0" y2="195.85" stroke="#000" stroke-width="1.8"/><line x1="46.5" y1="234.72" x2="55.0" y2="234.72" stroke="#000" stroke-width="1.8"/><line x1="50.5" y1="273.59" x2="55.0" y2="273.59" stroke="#000" stroke-width="1.8"/><line x1="46.5" y1="312.46" x2="55.0" y2="312.46" stroke="#000" stroke-width="1.8"/><line x1="50.5" y1="351.33" x2="55.0" y2="351.33" stroke="#000" stroke-width="1.8"/><line x1="46.5" y1="390.20" x2="55.0" y2="390.20" stroke="#000" stroke-width="1.8"/><g opacity="0.999"><line x1="55.00" y1="390.85" x2="55.00" y2="398.75" stroke="#000" stroke-width="1.8"/><text transform="translate(55.00,416.3) scale(1,1.04)" text-anchor="middle" font-family="Liberation Sans, sans-serif" font-size="15.7">200</text><line x1="120.96" y1="390.85" x2="120.96" y2="395.15000000000003" stroke="#000" stroke-width="1.8"/><line x1="186.93" y1="390.85" x2="186.93" y2="398.75" stroke="#000" stroke-width="1.8"/><text transform="translate(186.93,416.3) scale(1,1.04)" text-anchor="middle" font-family="Liberation Sans, sans-serif" font-size="15.7">400</text><line x1="252.89" y1="390.85" x2="252.89" y2="395.15000000000003" stroke="#000" stroke-width="1.8"/><line x1="318.85" y1="390.85" x2="318.85" y2="398.75" stroke="#000" stroke-width="1.8"/><text transform="translate(318.85,416.3) scale(1,1.04)" text-anchor="middle" font-family="Liberation Sans, sans-serif" font-size="15.7">600</text><line x1="384.81" y1="390.85" x2="384.81" y2="395.15000000000003" stroke="#000" stroke-width="1.8"/><line x1="450.77" y1="390.85" x2="450.77" y2="398.75" stroke="#000" stroke-width="1.8"/><text transform="translate(450.77,416.3) scale(1,1.04)" text-anchor="middle" font-family="Liberation Sans, sans-serif" font-size="15.7">800</text><line x1="516.74" y1="390.85" x2="516.74" y2="395.15000000000003" stroke="#000" stroke-width="1.8"/><line x1="582.70" y1="390.85" x2="582.70" y2="398.75" stroke="#000" stroke-width="1.8"/><use href="#one" transform="translate(565.24,416.3) scale(0.00767,-0.00767)"/><text transform="translate(573.97,416.3) scale(1,1.04)" font-family="Liberation Sans, sans-serif" font-size="15.7">000</text><text transform="translate(246.1,446) scale(1,1.04)" font-family="Liberation Sans, sans-serif" font-size="19.1">Wavelength (nm)</text><text transform="translate(14.3,255.8) rotate(-90) scale(1,1.04)" font-family="Liberation Sans, sans-serif" font-size="19.0">Intensity (cps)</text><text transform="translate(60.9,260.9) scale(1,1.04)" font-family="Liberation Sans, sans-serif" font-size="15.7">0% AgZ-Ch (30 Pa)</text><text transform="translate(59.4,378.6) scale(1,1.04)" font-family="Liberation Sans, sans-serif" font-size="15.7">0% AgZ-Ch (16 Pa)</text><g transform="translate(355.7,246.0) rotate(-90)"><text transform="translate(0.00,0) scale(1,1.04)" font-family="Liberation Sans, sans-serif" font-size="13">N</text><text transform="translate(9.39,5.5) scale(1,1.04)" font-family="Liberation Sans, sans-serif" font-size="8">2</text><use href="#one" transform="translate(17.45,0) scale(0.00635,-0.00635)"/></g><g transform="translate(371.9,255.8) rotate(-90)"><text transform="translate(0.00,0) scale(1,1.04)" font-family="Liberation Sans, sans-serif" font-size="13">N</text><use href="#one" transform="translate(13.00,0) scale(0.00635,-0.00635)"/></g><g transform="translate(382.3,236.6) rotate(-90)"><text transform="translate(0.00,0) scale(1,1.04)" font-family="Liberation Sans, sans-serif" font-size="13">N</text><use href="#one" transform="translate(13.00,0) scale(0.00635,-0.00635)"/></g><g transform="translate(395.4,243.8) rotate(-90)"><text transform="translate(0.00,0) scale(1,1.04)" font-family="Liberation Sans, sans-serif" font-size="13">C</text><use href="#one" transform="translate(14.00,0) scale(0.00635,-0.00635)"/></g><g transform="translate(411.0,213.5) rotate(-90)"><text transform="translate(0.00,0) scale(1,1.04)" font-family="Liberation Sans, sans-serif" font-size="13">C</text><use href="#one" transform="translate(14.00,0) scale(0.00635,-0.00635)"/></g><g transform="translate(418.7,50.4) rotate(-90)"><text transform="translate(0.00,0) scale(1,1.04)" font-family="Liberation Sans, sans-serif" font-size="13">C</text><use href="#one" transform="translate(12.20,0) scale(0.00635,-0.00635)"/></g><g transform="translate(432.9,123.3) rotate(-90)"><text transform="translate(0.00,0) scale(1,1.04)" font-family="Liberation Sans, sans-serif" font-size="13">O</text><text transform="translate(10.11,6.2) scale(1,1.04)" font-family="Liberation Sans, sans-serif" font-size="8.5">2</text><text transform="translate(19.65,0) scale(1,1.04)" font-family="Liberation Sans, sans-serif" font-size="13">R</text><use href="#one" transform="translate(29.04,0) scale(0.00635,-0.00635)"/></g><g transform="translate(460.3,78.0) rotate(-90)"><text transform="translate(0.00,0) scale(1,1.04)" font-family="Liberation Sans, sans-serif" font-size="13">A</text><text transform="translate(8.67,0) scale(1,1.04)" font-family="Liberation Sans, sans-serif" font-size="13">r</text><use href="#one" transform="translate(15.41,0) scale(0.00635,-0.00635)"/></g><g transform="translate(437.7,200.8) rotate(-90)"><text transform="translate(0.00,0) scale(1,1.04)" font-family="Liberation Sans, sans-serif" font-size="13">O</text><text transform="translate(10.11,5.5) scale(1,1.04)" font-family="Liberation Sans, sans-serif" font-size="8">2</text><text transform="translate(18.17,0) scale(1,1.04)" font-family="Liberation Sans, sans-serif" font-size="13">R</text><use href="#one" transform="translate(27.56,0) scale(0.00635,-0.00635)"/></g><g transform="translate(450.3,215.4) rotate(-90)"><text transform="translate(0.00,0) scale(1,1.04)" font-family="Liberation Sans, sans-serif" font-size="13">A</text><text transform="translate(8.67,0) scale(1,1.04)" font-family="Liberation Sans, sans-serif" font-size="13">r</text><use href="#one" transform="translate(15.21,0) scale(0.00635,-0.00635)"/></g><g transform="translate(457.2,193.8) rotate(-90)"><text transform="translate(0.00,0) scale(1,1.04)" font-family="Liberation Sans, sans-serif" font-size="13">O</text><use href="#one" transform="translate(13.72,0) scale(0.00635,-0.00635)"/></g><g transform="translate(471.3,239.3) rotate(-90)"><text transform="translate(0.00,0) scale(1,1.04)" font-family="Liberation Sans, sans-serif" font-size="13">N</text><use href="#one" transform="translate(12.00,0) scale(0.00635,-0.00635)"/></g><g transform="translate(482.75,186.9) rotate(-90)"><text transform="translate(0.00,0) scale(1,1.04)" font-family="Liberation Sans, sans-serif" font-size="13">C</text><text transform="translate(9.39,0) scale(1,1.04)" font-family="Liberation Sans, sans-serif" font-size="13">O</text><use href="#one" transform="translate(21.51,0) scale(0.00635,-0.00635)"/></g><g transform="translate(491,241.1) rotate(-90)"><text transform="translate(0.00,0) scale(1,1.04)" font-family="Liberation Sans, sans-serif" font-size="13">A</text><text transform="translate(8.67,0) scale(1,1.04)" font-family="Liberation Sans, sans-serif" font-size="13">r</text><use href="#one" transform="translate(16.11,0) scale(0.00635,-0.00635)"/></g><g transform="translate(528.6,220.0) rotate(-90)"><text transform="translate(0.00,0) scale(1,1.04)" font-family="Liberation Sans, sans-serif" font-size="13">C</text><use href="#one" transform="translate(12.10,0) scale(0.00635,-0.00635)"/></g></g></svg></body></html>
